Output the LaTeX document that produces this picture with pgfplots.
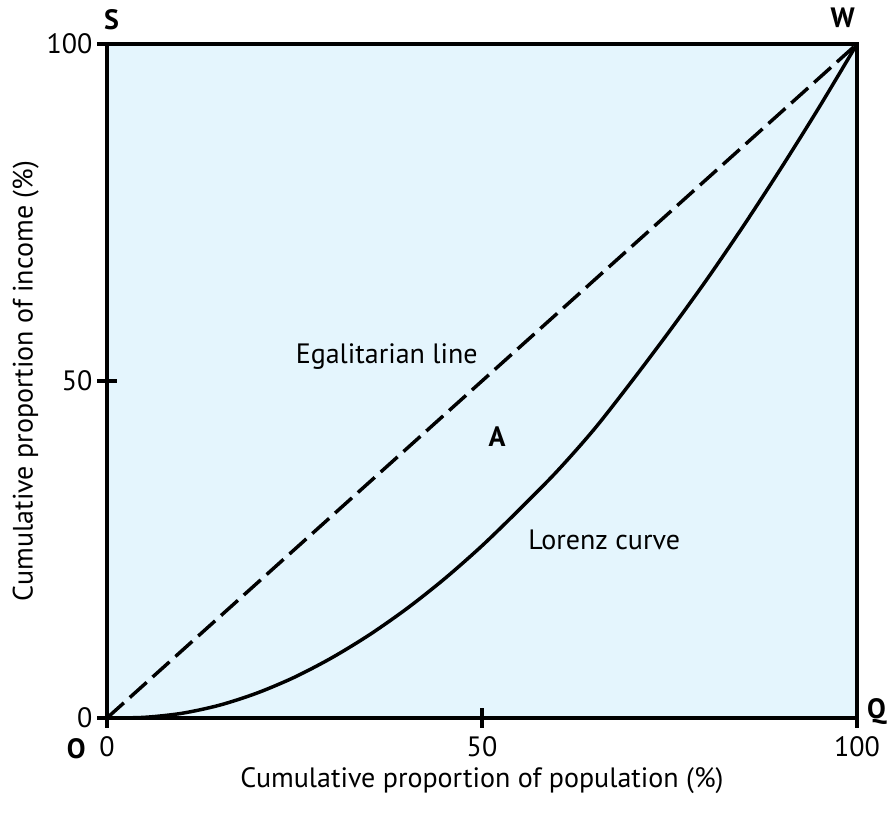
\documentclass[border=0pt]{standalone}
\usepackage{pgfplots}
\pgfplotsset{compat=1.18}
\usepackage{fontspec}
\setmainfont{PT Sans}
\definecolor{bgblue}{RGB}{228,245,253}
\newcommand{\lbl}{\fontsize{21pt}{25pt}\selectfont}
\begin{document}
\begin{tikzpicture}
\begin{axis}[
  name=ax,
  scale only axis,
  width=562.5pt, height=505.5pt,
  xmin=0, xmax=100, ymin=0, ymax=100,
  clip=false,
  axis background/.style={fill=bgblue},
  axis line style={line width=3.4pt, line join=miter, line cap=rect},
  xtick={0,50,100}, ytick={0,50,100},
  xtick pos=bottom, ytick pos=left,
  tick align=center,
  major tick length=15pt,
  tick style={line width=3pt, black},
  /pgf/number format/assume math mode=true,
  tick label style={font=\lbl},
  label style={font=\lbl},
  xlabel={Cumulative proportion of population (\%)},
  ylabel={Cumulative proportion of income (\%)},
  xticklabel style={yshift=-3pt},
  xlabel style={yshift=-1pt},
  ylabel style={yshift=-1pt},
]
\addplot[black, line width=2.6pt, dash pattern=on 17pt off 6pt] coordinates {(0,0) (100,100)};
\addplot[black, line width=2.6pt, smooth] coordinates {
(0,0) (5,0.1) (10,0.7) (15,1.9) (20,3.7) (25,6.05) (30,8.95) (35,12.35) (40,16.25) (45,20.65) (50,25.55) (55,30.95) (60,36.6) (65,42.9) (70,50.0) (75,57.4) (80,65.1) (85,73.25) (90,81.8) (95,90.7) (100,100)};
\node[font=\lbl\bfseries] at (axis cs:0.6,103.6) {S};
\node[font=\lbl\bfseries] at (axis cs:98.1,103.9) {W};
\node[font=\lbl\bfseries] at (axis cs:102.6,0.9) {Q};
\node[font=\lbl\bfseries] at (axis cs:-4.1,-4.5) {O};
\node[font=\lbl\bfseries] at (axis cs:52,41.7) {A};
\node[font=\lbl] at (axis cs:37.3,53.6) {Egalitarian line};
\node[font=\lbl] at (axis cs:66.3,26.4) {Lorenz curve};
\end{axis}
\pgfresetboundingbox
\path[use as bounding box] ([xshift=-80.25pt,yshift=-73.5pt]ax.south west) rectangle ++(666.75pt,612pt);
\end{tikzpicture}
\end{document}
